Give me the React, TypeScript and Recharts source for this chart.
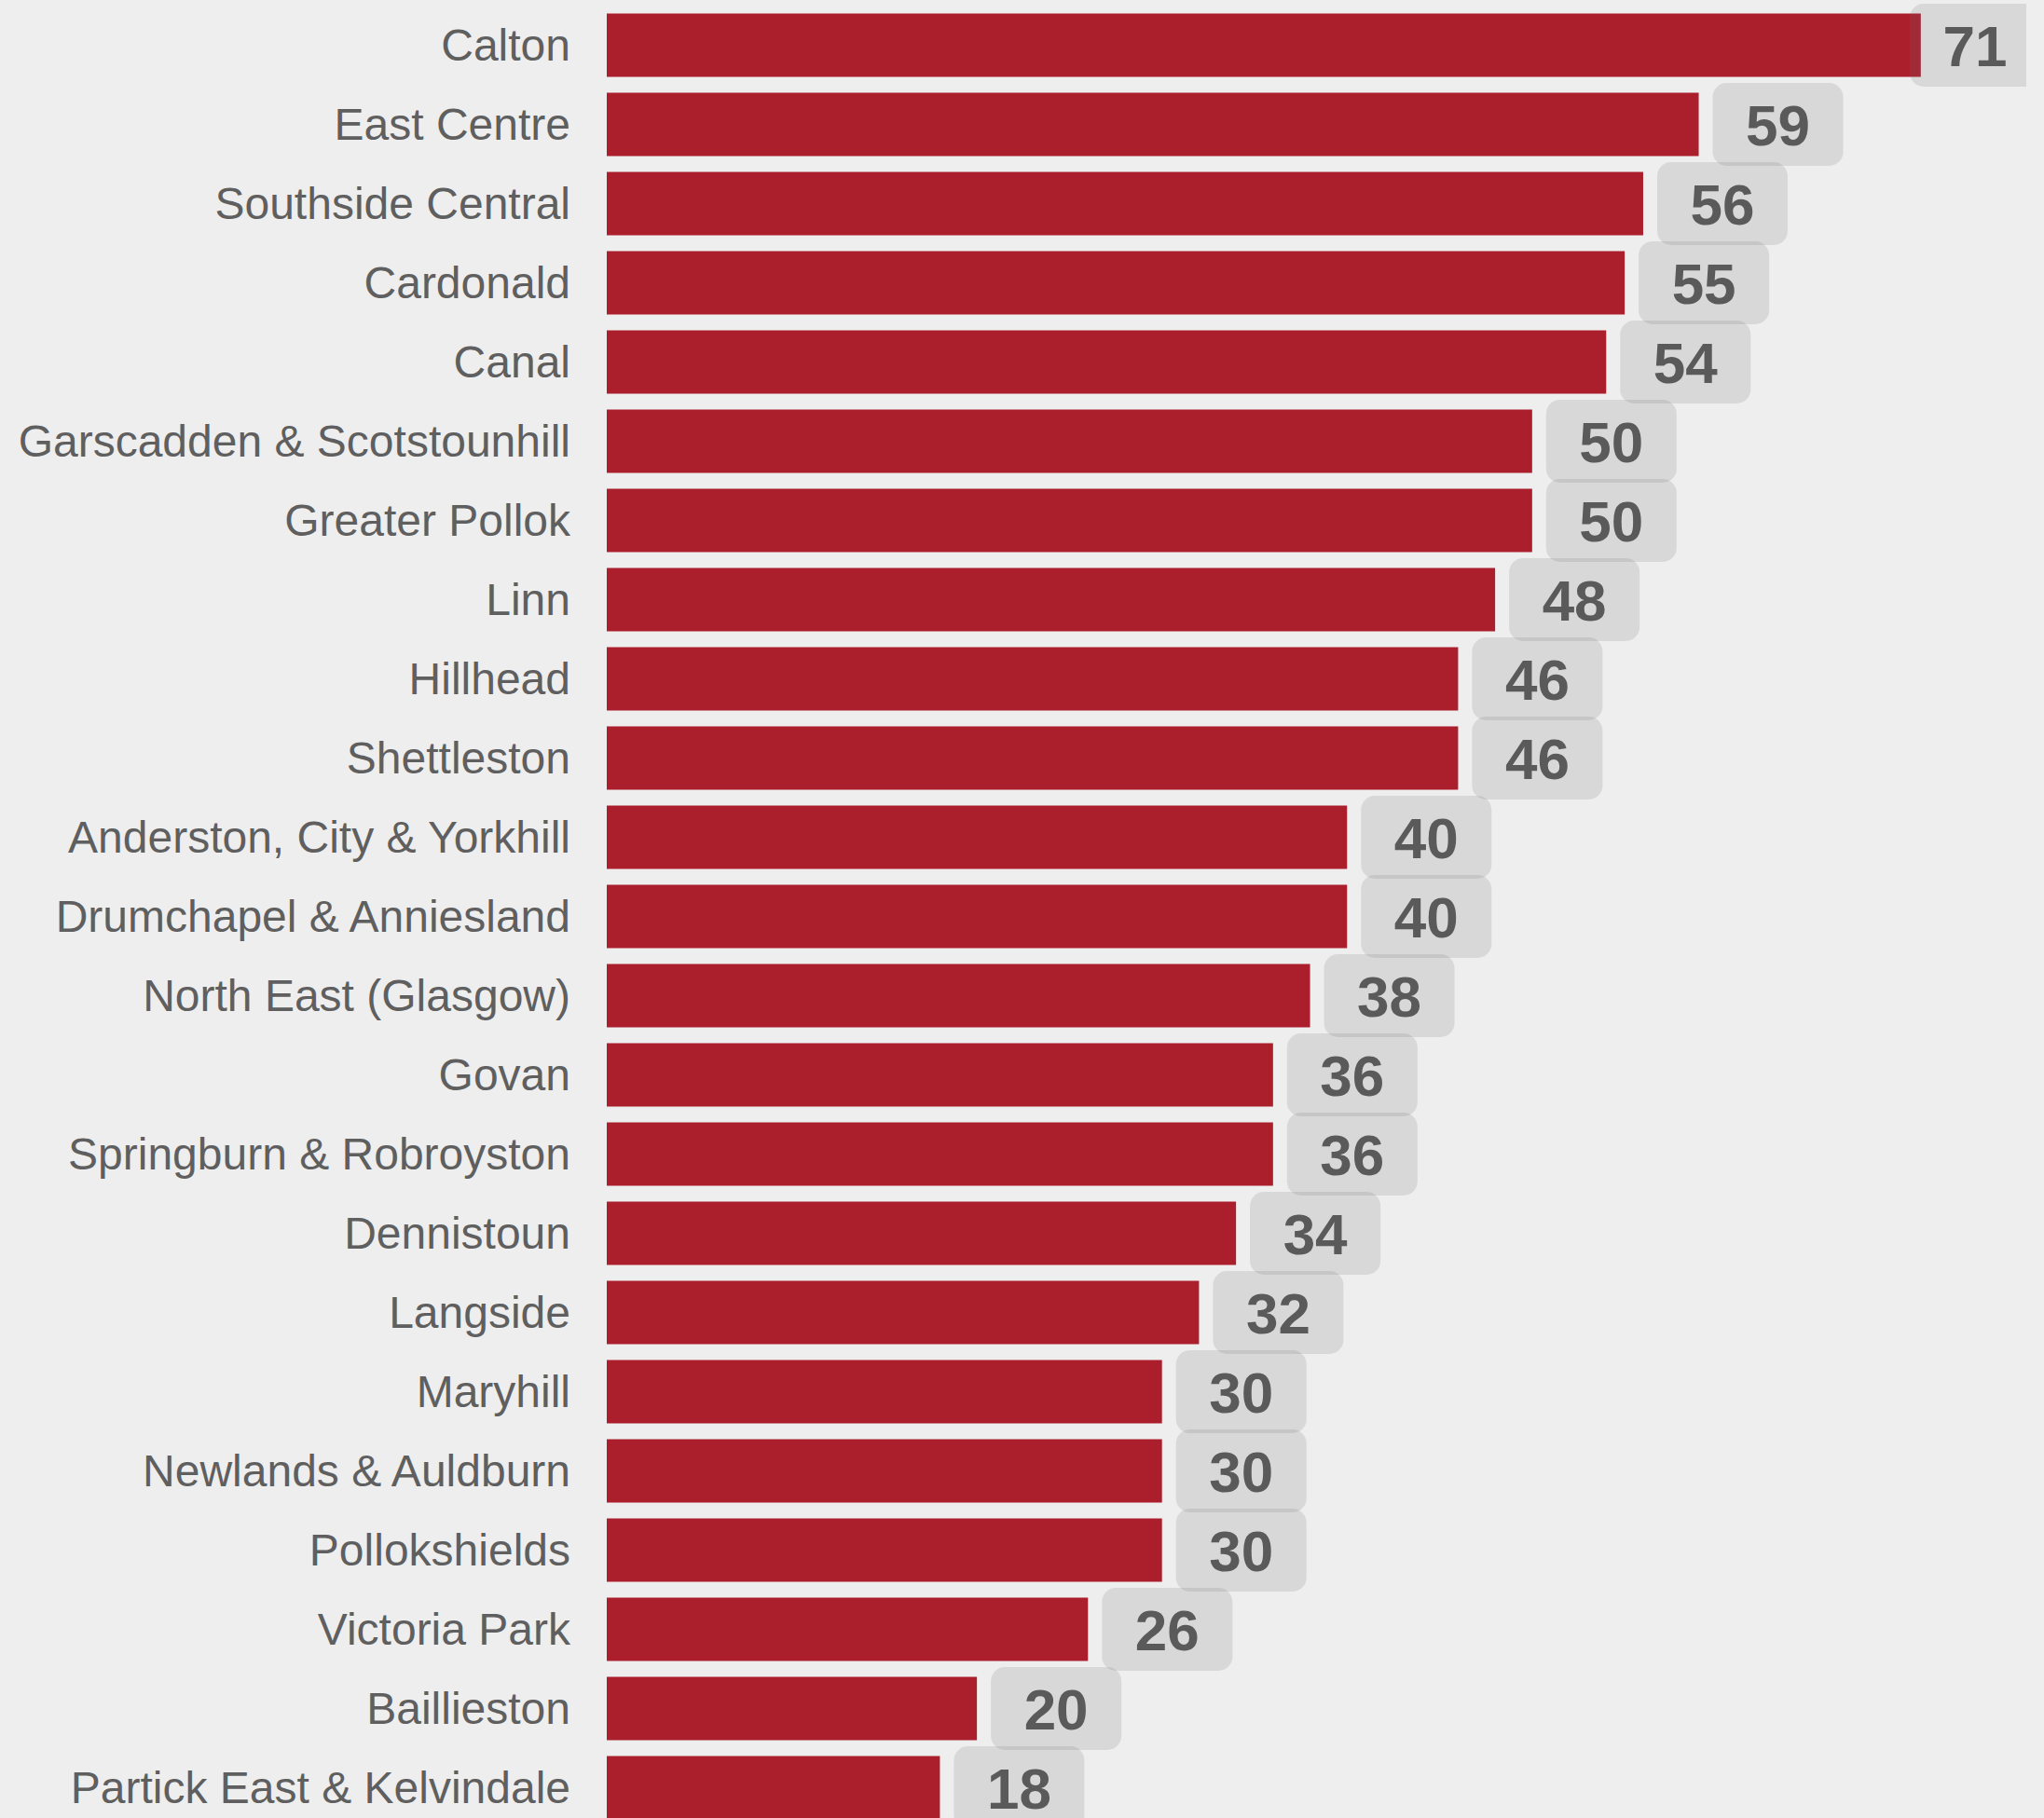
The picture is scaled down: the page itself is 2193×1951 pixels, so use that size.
import { BarChart, Bar, XAxis, YAxis, LabelList } from "recharts";

const wards = [
  "Calton", "East Centre", "Southside Central", "Cardonald", "Canal",
  "Garscadden & Scotstounhill", "Greater Pollok", "Linn", "Hillhead", "Shettleston",
  "Anderston, City & Yorkhill", "Drumchapel & Anniesland", "North East (Glasgow)", "Govan",
  "Springburn & Robroyston", "Dennistoun", "Langside", "Maryhill", "Newlands & Auldburn",
  "Pollokshields", "Victoria Park", "Baillieston", "Partick East & Kelvindale",
];
const counts = [71, 59, 56, 55, 54, 50, 50, 48, 46, 46, 40, 40, 38, 36, 36, 34, 32, 30, 30, 30, 26, 20, 18];

const data = wards.map((name, i) => ({ name, value: counts[i] }));

if (typeof document !== "undefined") {
  document.body.style.margin = "0";
  document.body.style.background = "#eeeeee";
  document.body.style.overflow = "hidden";
}

const W = 2174;
const H = 1961;
const BOX_W = 140;
const BOX_H = 89;

function ValueLabel(props: any) {
  const { x, y, width, height, value } = props;
  const end = Number(x) + Number(width);
  const bx = Math.min(end + 15, W + 15 - BOX_W);
  const cy = Number(y) + Number(height) / 2;
  return (
    <g>
      <rect x={bx} y={cy - BOX_H / 2} width={BOX_W} height={BOX_H} rx={15} ry={15} fill="#6b6b6b" fillOpacity={0.16} />
      <text
        x={bx + BOX_W / 2}
        y={cy + 1}
        textAnchor="middle"
        dominantBaseline="central"
        fontFamily="'Liberation Sans', Arial, sans-serif"
        fontWeight="bold"
        fontSize={62}
        fill="#5a5a5a"
      >
        {value}
      </text>
    </g>
  );
}

function WardTick(props: any) {
  const { x, y, payload } = props;
  return (
    <text
      x={x}
      y={y}
      textAnchor="end"
      dominantBaseline="central"
      fontFamily="'Liberation Sans', Arial, sans-serif"
      fontSize={48}
      fill="#5f5f5f"
    >
      {payload.value}
    </text>
  );
}

export default function App() {
  return (
    <div style={{ width: 2193, height: 1951, background: "#eeeeee", overflow: "hidden" }}>
      <BarChart
        width={W}
        height={H}
        data={data}
        layout="vertical"
        margin={{ top: 6, right: 0, bottom: 0, left: 0 }}
        barCategoryGap="10%"
      >
        <XAxis type="number" domain={[0, 76.7]} hide />
        <YAxis
          type="category"
          dataKey="name"
          width={651}
          axisLine={false}
          tickLine={false}
          tickMargin={33}
          interval={0}
          tick={<WardTick />}
        />
        <Bar dataKey="value" fill="#ab1f2d" isAnimationActive={false}>
          <LabelList dataKey="value" content={<ValueLabel />} />
        </Bar>
      </BarChart>
    </div>
  );
}
